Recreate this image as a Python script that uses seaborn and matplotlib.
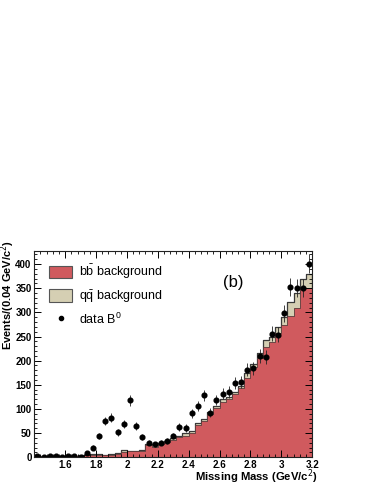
import numpy as np
import pandas as pd
import matplotlib
matplotlib.use("Agg")
import matplotlib.pyplot as plt
import seaborn as sns
from matplotlib.patches import Patch
from matplotlib.lines import Line2D
from matplotlib.ticker import MultipleLocator

# bin edges of the missing mass histogram (GeV/c^2)
edges = [round(1.40 + 0.04 * i, 2) for i in range(46)]
centers = [round(e + 0.02, 2) for e in edges[:-1]]

# stacked background: total (bb + qq) and bb alone
total_bkg = [5, 2, 2, 2, 2, 3, 3, 4, 5, 6, 6, 5, 6, 9, 16, 14, 14, 15, 27, 25,
             29, 33, 39, 45, 50, 55, 70, 79, 93, 107, 121, 125, 135, 148, 175, 194,
             215, 242, 250, 269, 291, 322, 340, 370, 380]
bb_bkg = [4, 1, 1, 1, 1, 2, 2, 3, 4, 4, 4, 4, 5, 7, 11, 12, 12, 13, 25, 22,
          27, 31, 36, 42, 45, 50, 66, 75, 89, 101, 114, 120, 130, 143, 165, 186,
          205, 229, 238, 257, 274, 292, 310, 350, 350]

# data B0
data_b0 = [3, 0, 2, 3, 1, 2, 3, 0, 8, 20, 44, 75, 82, 52, 69, 118, 65, 42, 30, 27,
           30, 34, 44, 63, 61, 91, 107, 128, 92, 119, 132, 135, 154, 156, 181, 184,
           209, 208, 256, 254, 298, 352, 350, 350, 401]

df = pd.DataFrame({"mass": centers, "total": total_bkg, "bb": bb_bkg, "data": data_b0})

red = "#d05a5e"
tan = "#d5cfb3"
edge = "#3a3a3a"

plt.rcParams["font.family"] = ["Liberation Sans", "DejaVu Sans"]

fig = plt.figure(figsize=(3.74, 4.84), dpi=100)
ax = fig.add_axes([0.0917, 0.0552, 0.7428, 0.4262])

# backgrounds
sns.histplot(x=df["mass"], weights=df["total"], bins=edges, element="step",
             fill=True, color=tan, alpha=1, edgecolor=edge, linewidth=0.9, ax=ax)
sns.histplot(x=df["mass"], weights=df["bb"], bins=edges, element="step",
             fill=True, color=red, alpha=1, edgecolor="#5a3a3a", linewidth=0.6, ax=ax)

# data points
ax.errorbar(df["mass"], df["data"], yerr=np.sqrt(df["data"]), xerr=0.012,
            fmt="o", color="black", markersize=3.4, elinewidth=0.6, capsize=0,
            ecolor="#222222")

ax.set_xlim(1.4, 3.2)
ax.set_ylim(0, 427)
ax.xaxis.set_major_locator(MultipleLocator(0.2))
ax.xaxis.set_minor_locator(MultipleLocator(0.04))
ax.yaxis.set_major_locator(MultipleLocator(50))
ax.yaxis.set_minor_locator(MultipleLocator(10))
ax.tick_params(which="both", direction="in", top=True, right=True, labelsize=7, pad=2)
ax.tick_params(which="major", length=5, width=0.7)
ax.tick_params(which="minor", length=2.5, width=0.6)
ax.set_xticks([1.6, 1.8, 2.0, 2.2, 2.4, 2.6, 2.8, 3.0, 3.2])
ax.set_xticklabels(["1.6", "1.8", "2", "2.2", "2.4", "2.6", "2.8", "3", "3.2"])
for lab in ax.get_xticklabels() + ax.get_yticklabels():
    lab.set_fontweight("bold")
for s in ax.spines.values():
    s.set_linewidth(0.8)
    s.set_color("#222222")

ax.set_xlabel("Missing Mass (GeV/c$^2$)", fontsize=8.1, fontweight="bold",
              loc="right")
ax.xaxis.set_label_coords(1.018, -0.05)
ax.xaxis.label.set_verticalalignment("top")
ax.set_ylabel("Events/(0.04 GeV/c$^2$)", fontsize=8, fontweight="bold",
              loc="top")
ax.yaxis.label.set_verticalalignment("center")
ax.yaxis.set_label_coords(-0.094, 1.055)

handles = [Patch(facecolor=red, edgecolor="#555555", linewidth=0.8),
           Patch(facecolor=tan, edgecolor="#555555", linewidth=0.8),
           Line2D([], [], marker="o", color="black", linestyle="none", markersize=3)]
labels = [r"b$\mathregular{\bar{b}}$ background", r"q$\mathregular{\bar{q}}$ background",
          r"data B$^{\mathregular{0}}$"]
ax.legend(handles, labels, loc="upper left", frameon=False, fontsize=9,
          handlelength=1.85, handleheight=1.2, borderaxespad=0.3,
          labelspacing=0.55, handletextpad=0.5, bbox_to_anchor=(0.022, 0.985))

ax.text(0.715, 0.845, "(b)", transform=ax.transAxes, fontsize=12, ha="center",
        va="center")

fig.savefig("out.png", dpi=100)
